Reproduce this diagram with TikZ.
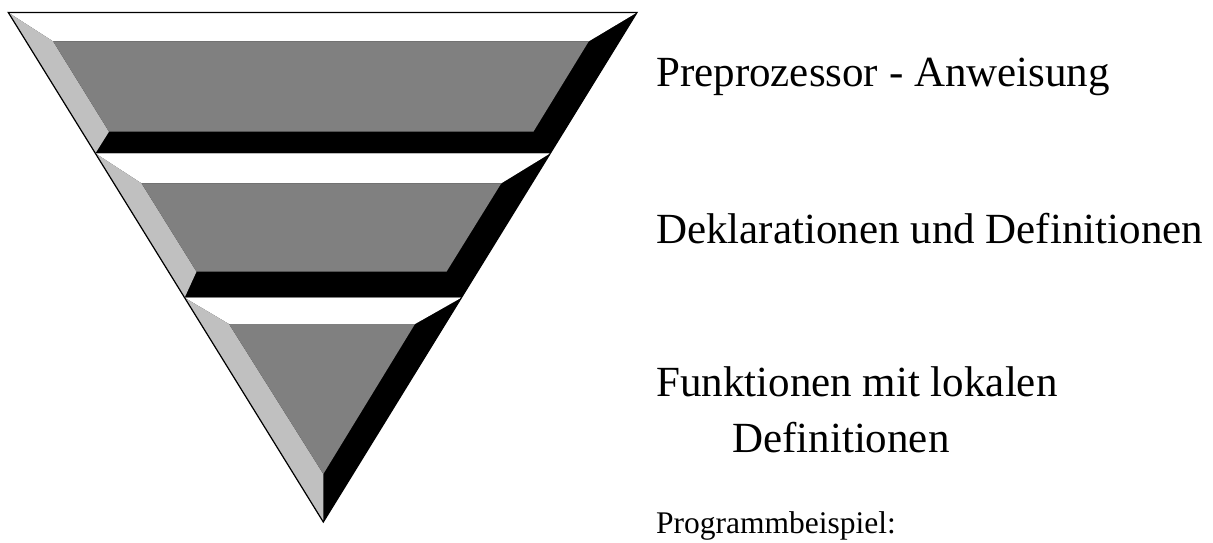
\documentclass[tikz,border=0pt]{standalone}
\usepackage{fontspec}
\setmainfont{Liberation Serif}
\definecolor{midgray}{RGB}{128,128,128}
\definecolor{lightgray}{RGB}{192,192,192}
\begin{document}
\begin{tikzpicture}[x=1pt,y=-1pt,
  shadow/.style={fill=black},
  topface/.style={fill=white},
  leftface/.style={fill=lightgray},
  face/.style={fill=midgray},
  bigtext/.style={anchor=base west,inner sep=0pt,font=\fontsize{43}{56}\selectfont,align=left},
  smalltext/.style={anchor=base west,inner sep=0pt,font=\fontsize{31.5}{38}\selectfont}]
\useasboundingbox (0,0) rectangle (1213,543);
% triangle corners
\coordinate (TL) at (8.3,12.5);
\coordinate (TR) at (637,12.5);
\coordinate (AP) at (323.3,522);
% band 1
\coordinate (a1) at (8.3,12.5);   \coordinate (b1) at (637,12.5);
\coordinate (c1) at (550.3,153.3); \coordinate (d1) at (95.4,153.3);
\coordinate (e1) at (53.1,41.3);  \coordinate (f1) at (588.8,41.3);
\coordinate (g1) at (533.4,131.7); \coordinate (h1) at (109,131.7);
% band 2
\coordinate (a2) at (95.4,153.3); \coordinate (b2) at (550.3,153.3);
\coordinate (c2) at (461.4,297.7); \coordinate (d2) at (184.6,297.7);
\coordinate (e2) at (141.5,183.3); \coordinate (f2) at (501.3,183.3);
\coordinate (g2) at (446.5,271.7); \coordinate (h2) at (196.5,271.7);
% band 3
\coordinate (a3) at (184.6,297.7); \coordinate (b3) at (461.4,297.7);
\coordinate (e3) at (229,324);    \coordinate (f3) at (415,324);
\coordinate (g3) at (323.3,474);
% band 1 faces
\fill[shadow] (a1) -- (b1) -- (c1) -- (d1) -- cycle;
\fill[topface] (a1) -- (b1) -- (f1) -- (e1) -- cycle;
\fill[leftface] (a1) -- (e1) -- (h1) -- (d1) -- cycle;
\fill[face] (e1) -- (f1) -- (g1) -- (h1) -- cycle;
% band 2 faces
\fill[shadow] (a2) -- (b2) -- (c2) -- (d2) -- cycle;
\fill[topface] (a2) -- (b2) -- (f2) -- (e2) -- cycle;
\fill[leftface] (a2) -- (e2) -- (h2) -- (d2) -- cycle;
\fill[face] (e2) -- (f2) -- (g2) -- (h2) -- cycle;
% band 3 faces
\fill[shadow] (a3) -- (b3) -- (AP) -- cycle;
\fill[topface] (a3) -- (b3) -- (f3) -- (e3) -- cycle;
\fill[leftface] (a3) -- (e3) -- (g3) -- (AP) -- cycle;
\fill[face] (e3) -- (f3) -- (g3) -- cycle;
% outline
\draw[line width=1.2pt,line join=miter] (TL) -- (TR) -- (AP) -- cycle;
% labels
\node[bigtext] (l1) at (656,86) {Preprozessor - Anweisung};
\node[bigtext] (l2) at (656,243) {Deklarationen und Definitionen};
\node[bigtext] (l3) at (656,452) {Funktionen mit lokalen\\\hspace*{76pt}Definitionen};
\node[smalltext] (l4) at (656,533) {Programmbeispiel:};
\end{tikzpicture}
\end{document}
